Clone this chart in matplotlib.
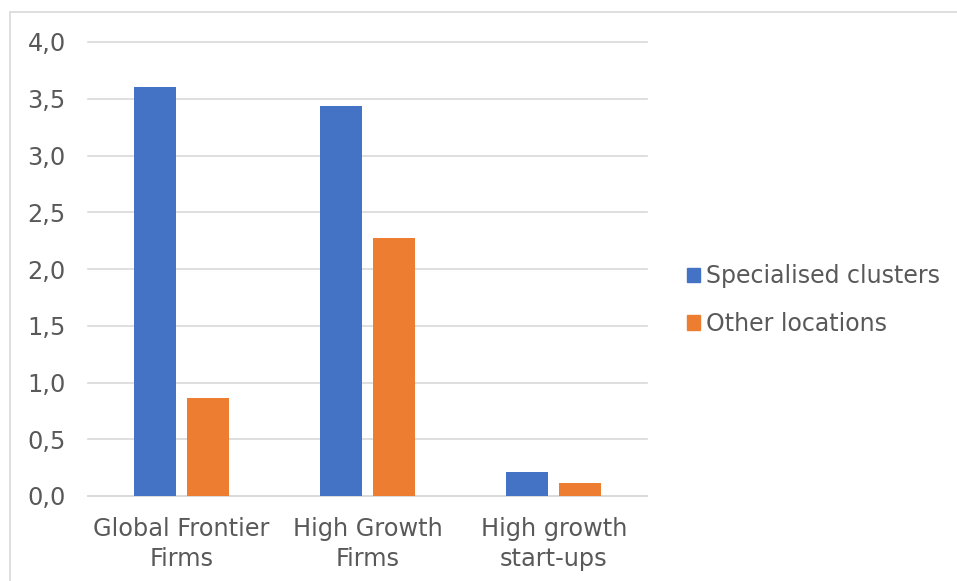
import matplotlib.pyplot as plt
import numpy as np
from matplotlib.patches import Rectangle, Patch

# chart data
categories = ["Global Frontier\nFirms", "High Growth\nFirms", "High growth\nstart-ups"]
specialised = [3.60, 3.44, 0.21]
other = [0.86, 2.27, 0.115]
yticks = [0.0, 0.5, 1.0, 1.5, 2.0, 2.5, 3.0, 3.5, 4.0]
ytick_labels = ["0,0", "0,5", "1,0", "1,5", "2,0", "2,5", "3,0", "3,5", "4,0"]

blue = "#4472C4"
orange = "#ED7D31"
text_col = "#595959"
grid_col = "#D9D9D9"

W, H = 957, 581
fig = plt.figure(figsize=(W / 100, H / 100), dpi=100)
plt.rcParams['font.family'] = ['DejaVu Sans']

# outer chart border
fig.patches.append(Rectangle((10 / W, -0.1), 1.1, 1.1 - 12 / H, transform=fig.transFigure,
                             fill=False, edgecolor=grid_col, linewidth=1.2))

ax = fig.add_axes([88 / W, 1 - 496 / H, (647 - 88) / W, (496 - 42) / H])

x = np.arange(len(categories))
bw = 0.225
gap = 0.06
ax.bar(x - (bw + gap) / 2, specialised, bw, color=blue, label="Specialised clusters", zorder=3)
ax.bar(x + (bw + gap) / 2, other, bw, color=orange, label="Other locations", zorder=3)

ax.set_xlim(-0.5, len(categories) - 0.5)
ax.set_ylim(0, 4.0)
ax.set_yticks(yticks)
ax.set_yticklabels(ytick_labels)
ax.set_xticks(x)
ax.set_xticklabels(categories, linespacing=1.3)
ax.yaxis.grid(True, color=grid_col, linewidth=1.2, zorder=0)
for gl in ax.get_ygridlines():
    gl.set_clip_on(False)
ax.tick_params(axis='both', length=0, labelsize=17.3, colors=text_col)
ax.tick_params(axis='y', pad=16)
ax.tick_params(axis='x', pad=15)
for s in ["top", "right", "left"]:
    ax.spines[s].set_visible(False)
ax.spines["bottom"].set_color(grid_col)
ax.spines["bottom"].set_linewidth(1.2)

handles = [Patch(color=blue), Patch(color=orange)]
leg = fig.legend(handles, ["Specialised clusters", "Other locations"], loc="center left",
                 bbox_to_anchor=(666 / W, 1 - 300 / H), frameon=False, fontsize=17.0,
                 handlelength=0.55, handleheight=0.55, handletextpad=0.25, labelspacing=1.0,
                 labelcolor=text_col)

fig.savefig("out.png", dpi=100)
